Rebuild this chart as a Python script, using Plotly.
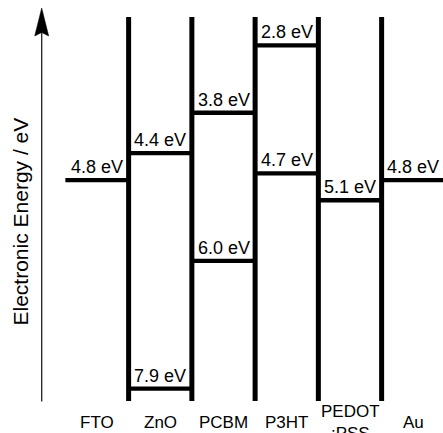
import plotly.graph_objects as go

# ---- data ----
materials = ["FTO", "ZnO", "PCBM", "P3HT", "PEDOT:PSS", "Au"]
material_labels = ["FTO", "ZnO", "PCBM", "P3HT", "PEDOT<br>:PSS", "Au"]
level_material = ["FTO", "ZnO", "ZnO", "PCBM", "PCBM", "P3HT", "P3HT", "PEDOT:PSS", "Au"]
level_energy = [4.8, 4.4, 7.9, 3.8, 6.0, 2.8, 4.7, 5.1, 4.8]
y_title = "Electronic Energy / eV"

FONT = "Liberation Sans, Arial, Helvetica, sans-serif"

W, H = 443, 433
TOP, BOT = 17, 32
plot_h = H - TOP - BOT

fig = go.Figure()

# energy levels
for name, e in zip(level_material, level_energy):
    i = materials.index(name)
    fig.add_trace(go.Scatter(
        x=[i - 0.5, i + 0.5], y=[e, e], mode="lines",
        line=dict(color="black", width=4.3), hoverinfo="skip", showlegend=False,
        cliponaxis=False,
    ))
    fig.add_annotation(
        x=i, y=e, xref="x", yref="y", text=f"{e:.1f} eV", showarrow=False,
        yanchor="bottom", xanchor="center", yshift=1,
        font=dict(family=FONT, size=18, color="black"),
    )

# vertical dividers between layers
for k in range(len(materials) - 1):
    fig.add_shape(type="line", xref="x", yref="paper", x0=k + 0.5, x1=k + 0.5,
                  y0=0, y1=1, line=dict(color="black", width=5))

# material labels
for k, lab in enumerate(material_labels):
    fig.add_annotation(
        x=k, y=(H - BOT - 422) / plot_h, xref="x", yref="paper", text=lab,
        showarrow=False, yanchor="middle", xanchor="center",
        font=dict(family=FONT, size=17, color="black"),
    )

# energy axis arrow
def px(xp):
    return xp / W

def py(yp):
    return (H - BOT - yp) / plot_h

ax_x = 41.7
fig.add_shape(type="line", xref="paper", yref="paper",
              x0=px(ax_x), x1=px(ax_x), y0=py(401.5), y1=py(32),
              line=dict(color="#222222", width=1.3))
fig.add_shape(type="path", xref="paper", yref="paper",
              path=(f"M {px(ax_x - 7)} {py(36)} L {px(ax_x)} {py(8)} "
                    f"L {px(ax_x + 7)} {py(36)} L {px(ax_x)} {py(32.5)} Z"),
              fillcolor="black", line=dict(color="black", width=0.5))

fig.add_annotation(
    x=px(20), y=py(221.5), xref="paper", yref="paper", text=y_title,
    showarrow=False, textangle=-90, xanchor="center", yanchor="middle",
    font=dict(family=FONT, size=21, color="black"),
)

# axis scaling (linear fit of schematic positions)
x_lo = -97 / 63.25
x_hi = (W - 97) / 63.25
e_top = 2.377
e_bot = 8.083

fig.update_layout(
    width=W, height=H,
    margin=dict(l=0, r=0, t=TOP, b=BOT, pad=0),
    paper_bgcolor="white", plot_bgcolor="white",
    xaxis=dict(range=[x_lo, x_hi], visible=False, fixedrange=True),
    yaxis=dict(range=[e_bot, e_top], visible=False, fixedrange=True),
    showlegend=False,
)

fig.write_html(
    "out.html",
    config={"displayModeBar": False},
    post_script="document.body.style.margin='0';document.body.style.overflow='hidden';",
)
